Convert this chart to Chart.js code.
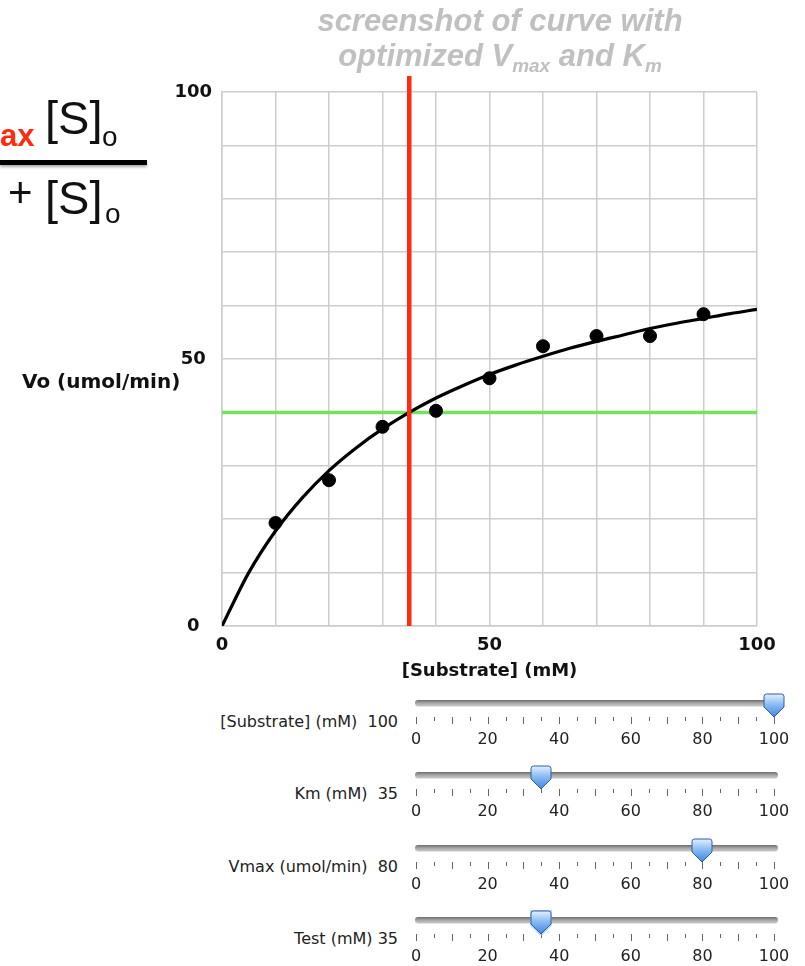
<!DOCTYPE html>
<html>
<head>
<meta charset="utf-8">
<script src="https://cdn.jsdelivr.net/npm/chart.js@4.4.1/dist/chart.umd.min.js"></script>
<style>
  html, body { margin: 0; padding: 0; background: #fff; }
  #pagina { position: relative; width: 805px; height: 966px; overflow: hidden; font-family: 'DejaVu Sans', sans-serif; }
  #grafico { position: absolute; left: 0; top: 0; }
  .abs { position: absolute; white-space: pre; }
  .titulo { left: 250px; width: 500px; text-align: center; font: italic bold 31px 'Liberation Sans', Arial, sans-serif; color: #c0c0c0; line-height: 34px; }
  .titulo sub { font-size: 19px; vertical-align: -6px; line-height: 0; }
  .formula { font-family: 'Liberation Sans', Arial, sans-serif; color: #111; line-height: 1; }
  .rotulo { right: 407px; text-align: right; font-size: 16px; line-height: 20px; color: #222; }
  .trilho { position: absolute; left: 415px; width: 363px; height: 6px; border-radius: 3px;
            background: linear-gradient(#6c6c6c, #a5a5a5 50%, #c6c6c6); box-shadow: 0 1px 0 #e4e4e4; }
  .tick { position: absolute; width: 1px; background: #666; }
  .num { position: absolute; width: 40px; text-align: center; font-size: 16px; line-height: 20px; color: #222; }
  .polegar { position: absolute; width: 22px; height: 25px; }
</style>
</head>
<body>
<div id="pagina">
  <canvas id="grafico" width="805" height="700"></canvas>

  <div class="abs titulo" style="top:4px">screenshot of curve with</div>
  <div class="abs titulo" style="top:39px">optimized V<sub>max</sub> and K<sub>m</sub></div>

  <!-- pedaço da equação à esquerda -->
  <div class="abs formula" style="left:0;top:120px;font-size:31px;font-weight:bold;color:#ff2a10">ax</div>
  <div class="abs formula" style="left:45px;top:94px;font-size:47px">[S]</div>
  <div class="abs formula" style="left:102px;top:123px;font-size:28px">o</div>
  <div class="abs" style="left:0;top:160px;width:147px;height:5px;background:#000;box-shadow:0 2px 3px rgba(0,0,0,0.35)"></div>
  <div class="abs formula" style="left:8px;top:172px;font-size:42px">+</div>
  <div class="abs formula" style="left:45px;top:174px;font-size:47px">[S]</div>
  <div class="abs formula" style="left:105px;top:200px;font-size:28px">o</div>

  <div class="abs" style="left:22px;top:369px;font-size:20px;font-weight:bold;line-height:24px;color:#111">Vo (umol/min)</div>

  <div id="sliders"></div>
</div>

<script>
// dados
const pontosS = [10, 20, 30, 40, 50, 60, 70, 80, 90];
const pontosV = [19.3, 27.3, 37.3, 40.3, 46.4, 52.4, 54.3, 54.3, 58.4];

const curvaS = [0, 5, 10, 15, 20, 25, 30, 35, 40, 45, 50, 55, 60, 65, 70, 75, 80, 85, 90, 95, 100];
const curvaV = [0, 10.0, 17.8, 24.0, 29.1, 33.3, 36.9, 40.0, 42.7, 45.0, 47.1, 48.9, 50.5, 52.0, 53.3, 54.5, 55.7, 56.7, 57.6, 58.5, 59.3];

const km = 35;          // linha vermelha
const metadeVmax = 40;  // linha verde
const topoLinhaKm = 103;

const xRotulos = [0, 50, 100];
const yRotulos = [0, 50, 100];

// sliders
const sliderNomes = ['[Substrate] (mM)', 'Km (mM)', 'Vmax (umol/min)', 'Test (mM)'];
const sliderEspaco = ['  ', '  ', '  ', ' '];
const sliderValores = [100, 35, 80, 35];
const sliderNumeros = [0, 20, 40, 60, 80, 100];

const corGrade = '#cdcdcd';

Chart.defaults.font.family = "'DejaVu Sans', sans-serif";

const ctx = document.getElementById('grafico').getContext('2d');
const chart = new Chart(ctx, {
    type: 'scatter',
    data: {
        datasets: [
            {
                label: 'Km',
                type: 'line',
                data: [{ x: km, y: 0 }, { x: km, y: topoLinhaKm }],
                borderColor: '#ff2a10',
                borderWidth: 4.5,
                pointRadius: 0,
                clip: false,
                order: 0,
            },
            {
                label: 'Pontos',
                data: pontosS.map((s, i) => ({ x: s, y: pontosV[i] })),
                backgroundColor: '#000',
                borderColor: '#000',
                pointRadius: 6.5,
                order: 1,
            },
            {
                label: 'Curva',
                type: 'line',
                data: curvaS.map((s, i) => ({ x: s, y: curvaV[i] })),
                borderColor: '#000',
                borderWidth: 3.2,
                pointRadius: 0,
                cubicInterpolationMode: 'monotone',
                order: 2,
            },
            {
                label: 'Vmax/2',
                type: 'line',
                data: [{ x: 0, y: metadeVmax }, { x: 100, y: metadeVmax }],
                borderColor: '#74e35c',
                borderWidth: 3.5,
                pointRadius: 0,
                clip: false,
                order: 3,
            },
        ],
    },
    options: {
        responsive: false,
        animation: false,
        devicePixelRatio: 1,
        layout: { padding: { left: 0, top: 92, right: 48, bottom: 0 } },
        plugins: {
            legend: { display: false },
            tooltip: { enabled: false },
        },
        scales: {
            x: {
                type: 'linear',
                min: 0,
                max: 100,
                ticks: {
                    stepSize: 10,
                    autoSkip: false,
                    maxRotation: 0,
                    padding: 9,
                    color: '#111',
                    font: { size: 18, weight: 'bold' },
                    callback: v => (xRotulos.includes(v) ? v : ''),
                },
                grid: { color: corGrade, lineWidth: 1.5, drawTicks: false },
                border: { color: corGrade, width: 1.5 },
                title: {
                    display: true,
                    text: '[Substrate] (mM)',
                    color: '#111',
                    font: { size: 18, weight: 'bold' },
                    padding: { top: 0, bottom: 18 },
                },
                afterFit: s => { s.height = 74; },
            },
            y: {
                type: 'linear',
                min: 0,
                max: 100,
                ticks: {
                    stepSize: 10,
                    autoSkip: false,
                    padding: 10,
                    crossAlign: 'center',
                    color: '#111',
                    font: { size: 18, weight: 'bold' },
                    callback: v => (yRotulos.includes(v) ? v : ''),
                },
                grid: { color: corGrade, lineWidth: 1.5, drawTicks: false },
                border: { color: corGrade, width: 1.5 },
                afterFit: s => { s.width = 222; },
            },
        },
    },
});

// desenha os sliders embaixo
const trilhoX0 = 416;      // posição do valor 0
const trilhoPasso = 3.58;  // px por unidade
const sliderTopo = 703;
const sliderDist = 72.3;

const polegarSvg = (brilho) =>
    '<svg xmlns="http://www.w3.org/2000/svg" width="22" height="25" viewBox="0 0 22 25">' +
    '<defs><linearGradient id="g" x1="0" y1="0" x2="0" y2="1">' +
    '<stop offset="0" stop-color="#e2efff"/><stop offset="0.45" stop-color="#8cbcf3"/><stop offset="1" stop-color="#3f86df"/>' +
    '</linearGradient></defs>' +
    (brilho ? '<path d="M3.5,0.5 H18.5 Q21.5,0.5 21.5,3.5 V14 L11,24.5 L0.5,14 V3.5 Q0.5,0.5 3.5,0.5 Z" fill="none" stroke="#9cc8ff" stroke-width="3" opacity="0.7"/>' : '') +
    '<path d="M3.5,1 H18.5 Q21,1 21,3.5 V14 L11,24 L1,14 V3.5 Q1,1 3.5,1 Z" fill="url(#g)" stroke="#2f5f9f" stroke-width="1"/>' +
    '</svg>';

const slidersEl = document.getElementById('sliders');
sliderNomes.forEach((nome, i) => {
    const cy = sliderTopo + i * sliderDist;

    const r = document.createElement('div');
    r.className = 'abs rotulo';
    r.textContent = nome + sliderEspaco[i] + sliderValores[i];
    r.style.top = (cy + 9) + 'px';
    slidersEl.appendChild(r);

    const t = document.createElement('div');
    t.className = 'trilho';
    t.style.top = (cy - 3) + 'px';
    slidersEl.appendChild(t);

    for (let v = 0; v <= 100; v += 5) {
        const k = document.createElement('div');
        k.className = 'tick';
        k.style.left = Math.round(trilhoX0 + v * trilhoPasso) + 'px';
        k.style.top = (cy + 14) + 'px';
        k.style.height = (v % 10 === 0 ? 7 : 4) + 'px';
        slidersEl.appendChild(k);
    }

    sliderNumeros.forEach(v => {
        const n = document.createElement('div');
        n.className = 'num';
        n.textContent = v;
        n.style.left = (trilhoX0 + v * trilhoPasso - 20) + 'px';
        n.style.top = (cy + 26) + 'px';
        slidersEl.appendChild(n);
    });

    const p = document.createElement('div');
    p.className = 'polegar';
    p.innerHTML = polegarSvg(i === 3);
    p.style.left = (trilhoX0 + sliderValores[i] * trilhoPasso - 11) + 'px';
    p.style.top = (cy - 10) + 'px';
    slidersEl.appendChild(p);
});
</script>
</body>
</html>
